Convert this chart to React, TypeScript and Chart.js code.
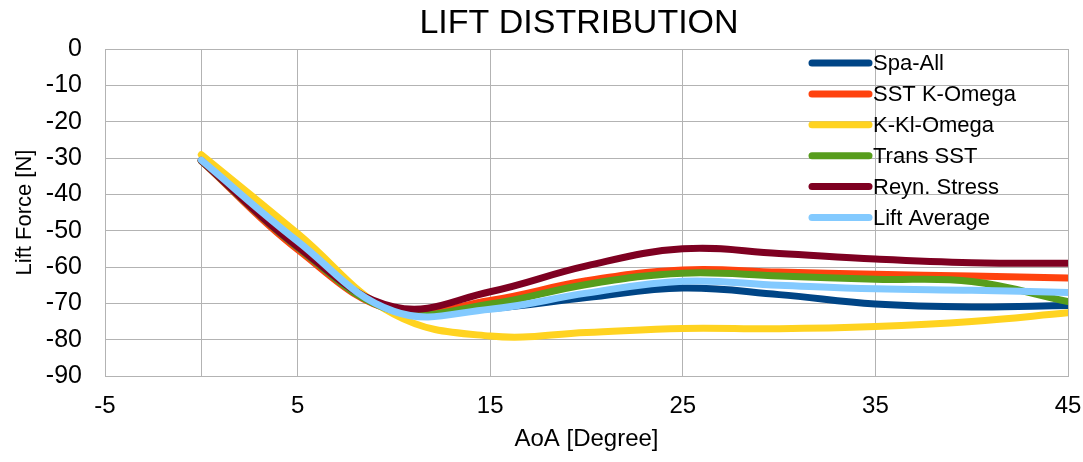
import React, { useEffect, useRef } from 'react';
import { Chart, registerables } from 'chart.js';

Chart.register(...registerables);

// ---- data ----
const aoa = [0, 5, 10, 15, 20, 25, 30, 35, 40, 45];
const spaAll = [-30.6, -54.3, -72.0, -71.4, -68.4, -65.8, -67.6, -70.2, -71.0, -70.6];
const sstKOmega = [-30.8, -55.2, -72.0, -69.2, -63.8, -60.8, -61.4, -62.0, -62.5, -63.0];
const kKlOmega = [-29.1, -50.8, -73.0, -79.0, -78.0, -76.9, -77.0, -76.4, -75.0, -72.6];
const transSST = [-30.8, -54.6, -72.1, -70.2, -64.8, -61.7, -62.5, -63.4, -64.0, -69.5];
const reynStress = [-30.7, -54.4, -71.0, -66.8, -59.7, -55.0, -56.3, -57.8, -58.8, -59.0];
const liftAverage = [-30.6, -52.9, -72.2, -71.6, -67.2, -63.9, -65.0, -66.0, -66.4, -67.0];

const seriesNames = ['Spa-All', 'SST K-Omega', 'K-Kl-Omega', 'Trans SST', 'Reyn. Stress', 'Lift Average'];
const seriesValues = [spaAll, sstKOmega, kKlOmega, transSST, reynStress, liftAverage];
const seriesColors = ['#004586', '#ff420e', '#ffd320', '#579d1c', '#7e0021', '#83caff'];

const xTickValues = [-5, 0, 5, 15, 25, 35, 45];
const hiddenXTickLabels = [0];
const yMin = -90;
const yMax = 0;
const yStep = 10;

const chartTitle = 'LIFT DISTRIBUTION';
const xTitle = 'AoA [Degree]';
const yTitle = 'Lift Force [N]';

const FONT = '"Liberation Sans", Arial, sans-serif';

const titleAndLegend = {
  id: 'titleAndLegend',
  afterDraw(chart: any) {
    const ctx = chart.ctx;
    const area = chart.chartArea;
    ctx.save();
    // title
    ctx.font = '34px ' + FONT;
    ctx.fillStyle = '#000000';
    ctx.textAlign = 'center';
    ctx.textBaseline = 'middle';
    ctx.fillText(chartTitle, 579, 24);
    // legend
    const lx0 = area.right - 256;
    const lx1 = area.right - 199;
    const tx = area.right - 195;
    const ty0 = area.top + 14;
    const dy = 30.9;
    ctx.font = '22px ' + FONT;
    ctx.textBaseline = 'middle';
    ctx.textAlign = 'left';
    seriesNames.forEach((name, i) => {
      const y = ty0 + i * dy;
      ctx.strokeStyle = seriesColors[i];
      ctx.lineWidth = 7;
      ctx.lineCap = 'round';
      ctx.beginPath();
      ctx.moveTo(lx0, y);
      ctx.lineTo(lx1, y);
      ctx.stroke();
      ctx.fillStyle = '#000000';
      ctx.fillText(name, tx, y + 1);
    });
    ctx.restore();
  },
};

export default function App() {
  const canvasRef = useRef<HTMLCanvasElement | null>(null);

  useEffect(() => {
    if (!canvasRef.current) return;
    const datasets = seriesNames.map((name, i) => ({
      label: name,
      data: aoa.map((x, j) => ({ x, y: seriesValues[i][j] })),
      borderColor: seriesColors[i],
      backgroundColor: seriesColors[i],
      borderWidth: 7,
      pointRadius: 0,
      pointHoverRadius: 0,
      tension: 0.4,
      fill: false,
      borderCapStyle: 'round' as const,
      borderJoinStyle: 'round' as const,
      order: seriesNames.length - i,
    }));

    const chart = new Chart(canvasRef.current, {
      type: 'line',
      data: { datasets },
      plugins: [titleAndLegend],
      options: {
        animation: false,
        responsive: true,
        maintainAspectRatio: false,
        layout: { padding: { left: 0, right: 15, top: 49, bottom: 0 } },
        plugins: {
          legend: { display: false },
          tooltip: { enabled: false },
          title: { display: false },
        },
        scales: {
          x: {
            type: 'linear',
            min: -5,
            max: 45,
            afterBuildTicks: (scale: any) => {
              scale.ticks = xTickValues.map((v) => ({ value: v }));
            },
            afterFit: (scale: any) => {
              scale.height = 86;
              scale.paddingRight = 0;
              scale.paddingLeft = 0;
            },
            grid: { color: '#b3b3b3', lineWidth: 1, drawTicks: false },
            border: { color: '#b3b3b3', width: 1 },
            ticks: {
              color: '#000000',
              font: { family: FONT, size: 24 },
              padding: 16,
              maxRotation: 0,
              autoSkip: false,
              callback: (v: any) => (hiddenXTickLabels.includes(Number(v)) ? '' : String(v)),
            },
            title: {
              display: true,
              text: xTitle,
              color: '#000000',
              font: { family: FONT, size: 24 },
              padding: { top: 0, bottom: 8 },
            },
          },
          y: {
            type: 'linear',
            min: yMin,
            max: yMax,
            afterFit: (scale: any) => {
              scale.width = 105;
            },
            grid: { color: '#b3b3b3', lineWidth: 1, drawTicks: false },
            border: { color: '#b3b3b3', width: 1 },
            ticks: {
              stepSize: yStep,
              color: '#000000',
              font: { family: FONT, size: 25 },
              padding: 23,
            },
            title: {
              display: true,
              text: yTitle,
              color: '#000000',
              font: { family: FONT, size: 22 },
              padding: { top: 12, bottom: 0 },
            },
          },
        },
      },
    });
    return () => chart.destroy();
  }, []);

  return (
    <div style={{ position: 'fixed', left: 0, top: 0, width: 1083, height: 462, background: '#ffffff' }}>
      <canvas ref={canvasRef} />
    </div>
  );
}
